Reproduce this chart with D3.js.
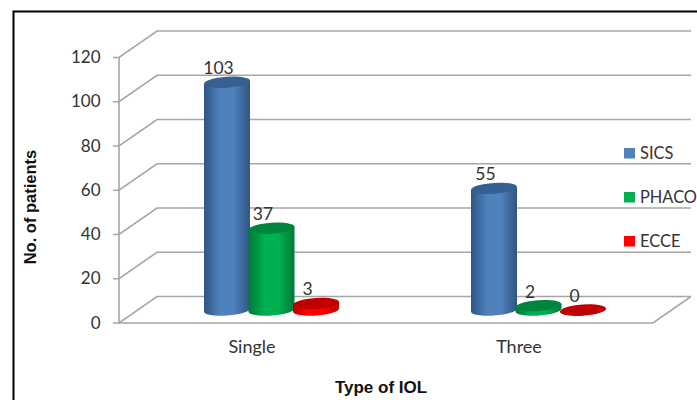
<!DOCTYPE html>
<html>
<head>
<meta charset="utf-8">
<script src="https://cdn.jsdelivr.net/npm/d3@7"></script>
<style>
html, body { margin: 0; padding: 0; background: #fff; }
svg { display: block; }
</style>
</head>
<body>
<svg id="chart" width="697" height="400"></svg>
<script>
var categories = ['Single', 'Three'];
var seriesNames = ['SICS', 'PHACO', 'ECCE'];
var sics = [103, 55];
var phaco = [37, 2];
var ecce = [3, 0];
var yTicks = [0, 20, 40, 60, 80, 100, 120];

var seriesValues = [sics, phaco, ecce];
var bodyEdge = ['#2f5583', '#007a38', '#c00000'];
var bodyMid = ['#4f81bd', '#00b050', '#ff0000'];
var topFill = ['#376092', '#00863c', '#c00000'];

var svg = d3.select('#chart');
var depthX = 38, depthY = -26.5;
var left = 119, right = 653, bottom = 323, top_ = 57.5;
var rx = 23, ry = 5.5, tilt = -4;
var labelFont = 'Lato, "Open Sans", sans-serif';
var titleFont = '"Liberation Sans", Arial, sans-serif';

var x = d3.scaleBand().domain(categories).range([left, right]);
var sub = d3.scaleBand().domain(seriesNames).range([-66.75, 66.75]);
var y = d3.scaleLinear().domain([0, 120]).range([bottom, top_]);

// outer frame, only left and top show in the picture
svg.append('path')
	.attr('d', 'M13.5,400V11.5H697')
	.attr('fill', 'none')
	.attr('stroke', '#000')
	.attr('stroke-width', 2);

// back wall and side wall gridlines
var grid = svg.append('g').attr('fill', 'none').attr('stroke', '#a6a6a6').attr('stroke-width', 1.6);
yTicks.forEach(function (t) {
	grid.append('path')
		.attr('d', 'M' + (left - 6) + ',' + y(t) + 'H' + left + 'L' + (left + depthX) + ',' + (y(t) + depthY) + 'H' + (right + depthX));
});
grid.append('path').attr('d', 'M' + left + ',' + y(120) + 'V' + y(0));
grid.append('path').attr('d', 'M' + left + ',' + y(0) + 'H' + right + 'L' + (right + depthX) + ',' + (y(0) + depthY));

// y tick labels
svg.append('g').selectAll('text').data(yTicks).enter().append('text')
	.attr('x', 100.5)
	.attr('y', function (d) { return y(d) + 5.5; })
	.attr('text-anchor', 'end')
	.attr('font-family', labelFont)
	.attr('font-size', 17)
	.attr('fill', '#333')
	.text(function (d) { return d; });

// category labels
svg.append('g').selectAll('text').data(categories).enter().append('text')
	.attr('x', function (d) { return x(d) + x.bandwidth() / 2 - 0.5; })
	.attr('y', 352.5)
	.attr('text-anchor', 'middle')
	.attr('font-family', labelFont)
	.attr('font-size', 18)
	.attr('fill', '#333')
	.text(function (d) { return d; });

var defs = svg.append('defs');
seriesNames.forEach(function (name, s) {
	var grad = defs.append('linearGradient').attr('id', 'cyl' + s);
	grad.append('stop').attr('offset', '0%').attr('stop-color', bodyEdge[s]);
	grad.append('stop').attr('offset', '35%').attr('stop-color', bodyMid[s]);
	grad.append('stop').attr('offset', '65%').attr('stop-color', bodyMid[s]);
	grad.append('stop').attr('offset', '100%').attr('stop-color', bodyEdge[s]);
});

function cylinderPath(cx, yBase, yTop) {
	var dy = rx * Math.sin(-tilt * Math.PI / 180);
	return 'M' + (cx - rx) + ',' + (yTop + dy) +
		'L' + (cx - rx) + ',' + (yBase + dy) +
		'A' + rx + ',' + ry + ',' + tilt + ',0,0,' + (cx + rx) + ',' + (yBase - dy) +
		'L' + (cx + rx) + ',' + (yTop - dy) + 'Z';
}

// cylinders, drawn by series so the later ones overlap the earlier ones
var baseY = y(0) + depthY / 2 + 0.3;
var scaleV = function (v) { return baseY - (y(0) - y(v)); };
var bars = svg.append('g');
seriesNames.forEach(function (name, s) {
	categories.forEach(function (cat, c) {
		var v = seriesValues[s][c];
		var cx = x(cat) + x.bandwidth() / 2 + depthX / 2 + sub(name) + sub.bandwidth() / 2;
		var yt = scaleV(v);
		bars.append('path')
			.attr('d', cylinderPath(cx, baseY, yt))
			.attr('fill', 'url(#cyl' + s + ')');
		bars.append('ellipse')
			.attr('rx', rx)
			.attr('ry', ry)
			.attr('transform', 'translate(' + cx + ',' + yt + ') rotate(' + tilt + ')')
			.attr('fill', topFill[s]);
		svg.append('text')
			.attr('class', 'value')
			.attr('x', cx - 8.5)
			.attr('y', yt - 8)
			.attr('text-anchor', 'middle')
			.attr('font-family', labelFont)
			.attr('font-size', 17.5)
			.attr('fill', '#333')
			.text(v);
	});
});

// legend
var legendY = d3.scalePoint().domain(seriesNames).range([153, 241]);
var legend = svg.append('g').selectAll('g').data(seriesNames).enter().append('g')
	.attr('transform', function (d) { return 'translate(624,' + legendY(d) + ')'; });
legend.append('rect')
	.attr('x', 0).attr('y', -5)
	.attr('width', 11).attr('height', 10.5)
	.attr('fill', function (d, i) { return bodyMid[i]; });
legend.append('text')
	.attr('x', 16).attr('y', 6)
	.attr('font-family', labelFont)
	.attr('font-size', 16.4)
	.attr('fill', '#333')
	.text(function (d) { return d; });

// axis titles
svg.append('text')
	.attr('x', 381).attr('y', 393)
	.attr('text-anchor', 'middle')
	.attr('font-family', titleFont)
	.attr('font-weight', 'bold')
	.attr('font-size', 17)
	.attr('fill', '#111')
	.text('Type of IOL');
svg.append('text')
	.attr('transform', 'translate(36,207) rotate(-90)')
	.attr('text-anchor', 'middle')
	.attr('font-family', titleFont)
	.attr('font-weight', 'bold')
	.attr('font-size', 16.5)
	.attr('fill', '#111')
	.text('No. of patients');
</script>
</body>
</html>
